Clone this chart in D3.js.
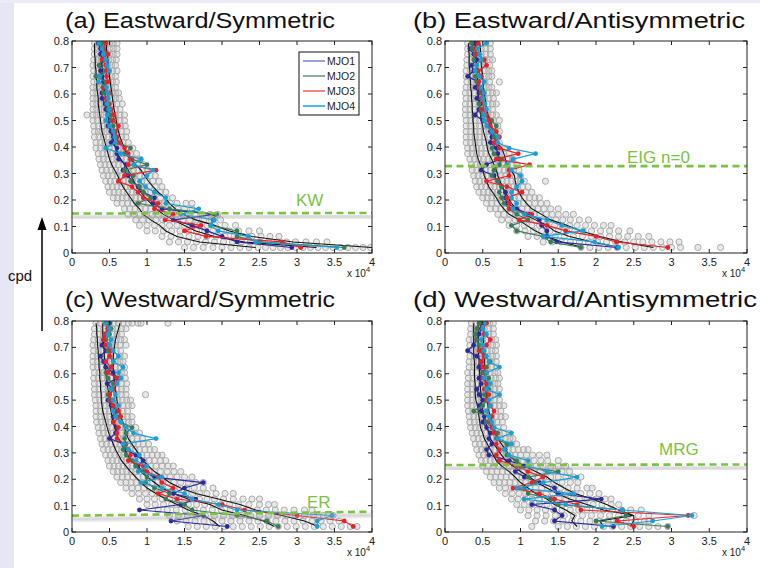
<!DOCTYPE html>
<html><head><meta charset="utf-8">
<script src="https://cdn.jsdelivr.net/npm/d3@7"></script>
<style>body{margin:0;background:#fff}svg{display:block;font-family:"Liberation Sans",Arial,Helvetica,sans-serif}</style>
</head><body><svg id="c" width="760" height="568"></svg>
<script>
// ---------- DATA ----------
const rowStep = 1/48;   // frequency bins (cpd), rows 1..38
const xTicks = [0,0.5,1,1.5,2,2.5,3,3.5,4];
const xTickLabels = ["0","0.5","1","1.5","2","2.5","3","3.5","4"];
const yTicks = [0,0.1,0.2,0.3,0.4,0.5,0.6,0.7,0.8];
const yTickLabels = ["0","0.1","0.2","0.3","0.4","0.5","0.6","0.7","0.8"];
const seriesNames = ["MJO1","MJO2","MJO3","MJO4"];
const seriesColors = ["#2a2a9a","#3b7c58","#e8222a","#1a9fd2"];
const legendColors = ["#8686cc","#6e9c80","#ee6a6a","#2aa6d8"];
const panelTitles = ["(a) Eastward/Symmetric","(b) Eastward/Antisymmetric","(c) Westward/Symmetric","(d) Westward/Antisymmetric"];
const waveLabels = ["KW","EIG n=0","ER","MRG"];
const waveFreqLeft = [0.149,0.328,0.062,0.254];
const waveFreqRight = [0.151,0.328,0.077,0.256];

// wavelength values (x 10^4) per frequency row, row 1 (lowest) to row 38
const a_MJO1=[2.93,2.2,2.0,1.8,1.6,1.35,1.9,1.2,1.08,1.1,0.95,0.88,0.8,0.75,0.68,0.72,0.62,0.6,0.6,0.52,0.55,0.52,0.48,0.5,0.48,0.45,0.44,0.4,0.4,0.44,0.42,0.4,0.38,0.37,0.42,0.38,0.38,0.35];
const a_MJO2=[3.63,2.5,2.2,2.2,1.85,1.88,1.93,1.3,0.88,1.05,0.95,0.9,0.78,0.82,0.7,1.0,0.8,0.7,0.78,0.62,0.58,0.56,0.55,0.52,0.52,0.48,0.46,0.47,0.42,0.41,0.45,0.32,0.45,0.36,0.4,0.43,0.42,0.4];
const a_MJO3=[3.05,2.8,1.79,1.5,1.72,1.24,1.35,1.1,1.15,0.95,0.88,0.8,0.62,0.7,1.12,0.75,0.78,0.75,0.7,0.62,0.6,0.58,0.62,0.55,0.56,0.52,0.5,0.45,0.5,0.42,0.48,0.46,0.46,0.45,0.4,0.48,0.42,0.45];
const a_MJO4=[3.53,2.45,2.35,1.95,1.85,1.9,1.45,1.69,1.25,1.25,1.1,0.98,0.9,1.0,1.08,0.82,0.92,0.65,0.45,0.58,0.57,0.55,0.5,0.45,0.47,0.5,0.47,0.48,0.48,0.46,0.35,0.37,0.5,0.47,0.45,0.42,0.4,0.36];
const a_lo=[2.45,1.7,1.4,1.25,1.17,1.05,0.95,0.9,0.83,0.78,0.73,0.68,0.64,0.61,0.57,0.53,0.5,0.48,0.46,0.44,0.42,0.4,0.39,0.38,0.37,0.36,0.35,0.35,0.34,0.33,0.33,0.32,0.32,0.31,0.31,0.3,0.3,0.3];
const a_mid=[3.26,2.3,1.9,1.65,1.5,1.35,1.22,1.12,1.05,0.98,0.92,0.87,0.82,0.79,0.75,0.7,0.65,0.6,0.58,0.56,0.54,0.52,0.5,0.49,0.48,0.47,0.46,0.45,0.44,0.43,0.42,0.41,0.41,0.4,0.4,0.39,0.39,0.38];
const a_hi=[4.0,2.95,2.4,2.1,1.9,1.65,1.48,1.38,1.3,1.24,1.15,1.08,1.02,0.97,0.92,0.85,0.78,0.72,0.7,0.67,0.64,0.62,0.6,0.59,0.58,0.56,0.55,0.54,0.53,0.52,0.51,0.5,0.49,0.48,0.48,0.47,0.46,0.46];

const b_MJO1=[2.28,1.48,1.35,1.35,1.28,1.25,1.12,0.95,0.82,0.8,0.8,0.75,0.7,0.65,0.48,0.55,0.72,0.7,0.68,0.6,0.62,0.6,0.58,0.5,0.4,0.45,0.47,0.42,0.45,0.4,0.44,0.3,0.38,0.35,0.42,0.38,0.33,0.4];
const b_MJO2=[1.8,1.4,1.3,0.95,0.88,1.1,0.95,0.85,0.78,0.75,0.72,0.75,0.7,0.62,0.65,0.72,0.75,0.65,0.62,0.68,0.65,0.65,0.68,0.62,0.5,0.48,0.45,0.5,0.48,0.45,0.42,0.4,0.44,0.42,0.38,0.4,0.36,0.35];
const b_MJO3=[2.95,2.27,2.0,1.6,1.35,0.98,1.15,0.85,0.85,0.82,1.02,0.82,0.55,0.85,0.85,1.12,0.68,0.97,0.72,0.65,0.72,0.68,0.6,0.58,0.55,0.5,0.52,0.48,0.5,0.46,0.45,0.48,0.44,0.55,0.52,0.42,0.4,0.44];
const b_MJO4=[2.3,1.98,1.3,1.83,1.55,1.35,1.05,0.9,0.95,0.88,0.88,0.95,1.02,1.0,0.88,0.82,0.9,1.2,0.85,0.7,0.7,0.62,0.55,0.52,0.52,0.55,0.53,0.5,0.52,0.48,0.52,0.45,0.4,0.42,0.48,0.46,0.43,0.55];
const b_lo=[1.83,1.55,1.35,1.2,1.08,0.98,0.85,0.78,0.72,0.68,0.63,0.58,0.55,0.52,0.5,0.47,0.44,0.42,0.41,0.4,0.39,0.38,0.38,0.37,0.37,0.36,0.36,0.35,0.35,0.34,0.34,0.33,0.33,0.32,0.32,0.32,0.31,0.31];
const b_mid=[2.32,1.95,1.65,1.45,1.35,1.2,1.05,0.95,0.88,0.84,0.8,0.76,0.73,0.7,0.68,0.65,0.62,0.58,0.56,0.55,0.53,0.51,0.5,0.48,0.47,0.46,0.46,0.45,0.44,0.44,0.43,0.43,0.42,0.42,0.41,0.41,0.4,0.4];
const b_hi=[2.76,2.35,2.05,1.8,1.62,1.4,1.28,1.15,1.08,1.02,0.98,0.95,0.93,0.92,0.88,0.82,0.8,0.78,0.75,0.68,0.65,0.63,0.62,0.6,0.57,0.55,0.54,0.53,0.52,0.51,0.5,0.5,0.49,0.48,0.48,0.47,0.47,0.46];

const c_MJO1=[2.07,1.32,1.75,0.9,1.45,1.65,1.35,1.5,1.75,1.1,0.95,0.88,0.95,0.85,0.72,0.7,0.5,0.58,0.6,0.55,0.55,0.6,0.52,0.48,0.5,0.55,0.47,0.6,0.55,0.45,0.42,0.38,0.45,0.4,0.42,0.45,0.48,0.5];
const c_MJO2=[2.75,2.6,2.2,1.6,1.5,1.25,1.3,1.1,0.98,1.0,0.95,0.85,0.8,0.72,0.68,0.72,0.7,0.72,0.8,0.65,0.6,0.55,0.55,0.5,0.48,0.52,0.55,0.48,0.45,0.52,0.55,0.5,0.48,0.5,0.45,0.5,0.52,0.48];
const c_MJO3=[3.75,3.63,3.0,2.3,2.0,1.4,1.15,1.35,1.2,1.15,1.0,0.95,0.75,0.78,0.75,0.7,0.6,0.6,0.62,0.55,0.65,0.62,0.55,0.52,0.5,0.55,0.58,0.6,0.48,0.52,0.45,0.5,0.52,0.45,0.42,0.44,0.48,0.45];
const c_MJO4=[3.27,3.27,3.47,2.2,1.95,1.6,1.5,1.2,0.92,1.2,0.88,1.0,0.85,0.9,0.75,0.68,1.12,0.82,0.72,0.65,0.58,0.55,0.62,0.55,0.58,0.52,0.6,0.65,0.62,0.68,0.55,0.62,0.55,0.5,0.52,0.48,0.5,0.45];
const c_lo=[1.97,1.88,1.75,1.55,1.4,1.25,1.12,1.0,0.92,0.85,0.78,0.72,0.66,0.62,0.58,0.55,0.52,0.49,0.47,0.45,0.43,0.41,0.4,0.39,0.39,0.38,0.38,0.37,0.37,0.36,0.36,0.35,0.35,0.34,0.34,0.33,0.33,0.32];
const c_mid=[2.7,2.55,2.3,2.0,1.84,1.55,1.35,1.2,1.1,1.0,0.92,0.86,0.8,0.74,0.7,0.66,0.62,0.59,0.57,0.55,0.53,0.52,0.51,0.5,0.49,0.48,0.47,0.46,0.45,0.45,0.44,0.43,0.43,0.42,0.42,0.41,0.41,0.41];
const c_hi=[3.28,3.1,2.8,2.45,2.24,1.95,1.65,1.45,1.3,1.2,1.1,1.02,0.95,0.9,0.85,0.8,0.75,0.72,0.7,0.68,0.65,0.63,0.61,0.6,0.59,0.58,0.57,0.56,0.55,0.55,0.55,0.55,0.56,0.57,0.58,0.6,0.62,0.64];

const d_MJO1=[2.23,1.45,1.55,1.45,1.15,2.07,1.5,1.45,1.25,1.05,0.93,1.05,0.85,0.58,0.55,0.62,0.58,0.6,0.55,0.5,0.52,0.48,0.45,0.5,0.45,0.42,0.48,0.45,0.5,0.45,0.48,0.42,0.3,0.38,0.42,0.45,0.48,0.47];
const d_MJO2=[2.95,2.0,2.4,2.35,1.5,1.4,1.1,1.05,1.2,1.1,1.5,1.0,0.95,0.82,0.8,0.82,0.68,0.7,0.62,0.55,0.6,0.38,0.5,0.55,0.52,0.58,0.55,0.58,0.5,0.55,0.6,0.52,0.48,0.45,0.42,0.4,0.42,0.45];
const d_MJO3=[2.5,2.28,3.22,1.8,1.75,1.45,1.25,0.9,1.15,1.3,1.1,0.95,0.72,0.68,0.72,0.68,0.7,0.65,0.62,0.6,0.62,0.65,0.6,0.55,0.58,0.52,0.55,0.5,0.55,0.5,0.48,0.52,0.45,0.55,0.6,0.52,0.5,0.55];
const d_MJO4=[2.08,2.75,3.27,2.35,1.6,1.05,1.7,0.95,1.3,1.75,1.35,1.1,1.1,0.85,0.78,0.88,0.7,0.88,0.65,0.62,0.58,0.55,0.6,0.58,0.72,0.55,0.6,0.52,0.55,0.72,0.58,0.55,0.52,0.5,0.48,0.55,0.5,0.52];
const d_lo=[1.75,1.68,1.72,1.6,1.45,1.35,1.2,1.1,1.0,0.93,0.85,0.75,0.68,0.64,0.6,0.56,0.52,0.5,0.47,0.46,0.45,0.44,0.43,0.41,0.4,0.4,0.4,0.39,0.39,0.39,0.39,0.38,0.38,0.38,0.38,0.38,0.38,0.38];
const d_mid=[2.1,2.05,2.5,2.1,1.88,1.65,1.48,1.35,1.22,1.12,1.0,0.9,0.8,0.75,0.7,0.65,0.6,0.58,0.56,0.54,0.52,0.5,0.49,0.48,0.48,0.47,0.47,0.46,0.46,0.45,0.45,0.45,0.44,0.44,0.44,0.44,0.44,0.44];
const d_hi=[2.45,2.5,2.5,2.3,2.14,1.95,1.72,1.58,1.45,1.35,1.2,1.05,0.92,0.85,0.8,0.75,0.7,0.67,0.64,0.62,0.6,0.58,0.57,0.56,0.55,0.54,0.54,0.53,0.53,0.52,0.52,0.52,0.51,0.51,0.51,0.51,0.51,0.51];

// gray sample circles: x values (x 10^2, i.e. 150 = 1.5 x 10^4) per row, row 1 first
const a_gray=["150 162 175 188 200 212 224 236 248 258 268 278 288 298 308 318 328 338 348 358 368 378 388 398","130 142 154 166 178 190 202 214 226 238 250 262 274 286 298 312 326 340","120 132 144 156 168 180 192 204 216 228 240 252 264 276","100 111 122 133 144 155 166 177 188 199 210 222 236 250","90 100 110 120 130 140 150 160 170 180 191 204 218","85 94 103 112 121 130 139 148 157 166 176 186 198","75 83 91 99 107 115 123 131 139 147 155 164 174 184 194","70 77 84 91 98 105 112 119 126 133 141 150 160","60 67 74 81 88 95 102 109 116 123 131 140 152 160","55 61 67 73 79 85 91 97 103 110 118 126 134","50 56 62 68 74 80 86 92 98 104 111 118 125","48 54 60 66 72 78 84 90 96 103 111 120","45 51 57 63 69 75 81 87 93 100 108 116","42 48 54 60 66 72 78 84 90 97 104 111","40 46 52 58 64 70 76 82 88 94 101","38 44 50 56 62 68 74 80 87 95","36 42 48 54 60 66 72 78 85 91","35 41 47 53 59 65 71 78 86","32 38 44 50 56 62 68 75 81","32 38 44 50 56 62 68 75","30 36 42 48 54 60 66 72","30 35 40 45 50 55 60 66 73","29 35 41 47 53 59 65 71","28 34 40 46 52 58 64 70","20 28 33 38 43 48 53 58 64 70","28 33 38 43 48 53 58 64","28 33 38 43 48 54 60 67","28 33 38 43 48 53 58 63","28 33 38 43 48 53 58 62","28 33 38 43 48 53 58","29 34 39 44 49 54 59","28 33 38 43 48 53 58","29 34 39 44 49 54 60","28 33 38 43 48 53 58","29 34 39 44 49 54 59","30 35 40 45 50 55 60","30 35 40 45 50 55 60","30 35 40 45 50 55 60"];
const b_gray=["180 192 204 216 228 240 252 264 276 288 300 312 335 365","130 142 154 166 178 190 202 214 226 238 250 262 274 286 298 310","110 122 134 146 158 170 182 194 206 218 230 242 256 270","95 106 117 128 139 150 161 172 183 194 206 218 230 245","85 95 105 115 125 135 145 155 165 175 186 198 210 220","75 84 93 102 111 120 129 138 147 156 166 178 190","70 78 86 94 102 110 118 126 134 142 150 160 170","60 67 74 81 88 95 102 109 116 123 131 140 150","55 62 69 76 83 90 97 104 111 119 127 135","50 56 62 68 74 80 86 92 98 105 112 119 125","45 51 57 63 69 75 81 87 93 100 107 115","42 48 54 60 66 72 78 84 90 96 103 110","40 46 52 58 64 70 76 82 88 94 100 105 133","38 44 50 56 62 68 74 80 86 93 100","36 42 48 54 60 66 72 78 84 91 98","35 41 47 53 59 65 71 77 83 89 95","33 39 45 51 57 63 69 75 82 90","30 36 42 48 54 60 66 72 78 85","30 36 42 48 54 60 66 72 80","28 34 40 46 52 58 64 72","28 34 40 46 52 58 64 70","28 34 40 46 52 58 65 72","28 34 40 46 52 58 64 70","28 34 40 46 52 58 64 72","27 33 39 45 51 57 63 68","27 33 39 45 51 57 63","27 33 39 45 51 57 63 68","28 34 40 46 52 58 64","27 33 39 45 51 57 63 68","28 34 40 46 52 58 62","29 35 41 47 53 59 72","28 34 40 46 52 58 62","28 34 40 46 52 58 62","29 35 41 47 53 59","29 35 41 47 53 59 63","30 36 42 48 54 60","30 36 42 48 54 60","30 36 42 48 54 60"];
const c_gray=["155 167 179 191 203 215 227 239 251 263 275 287 299 311 323 335 347 359 371 380","140 152 164 176 188 200 212 224 236 248 260 272 284 296 308 320 332 344 356","130 142 154 166 178 190 202 214 226 238 250 262 274 286 298 310 322 335 348","115 127 139 151 163 175 187 199 211 223 235 247 259 271 283 296 310 320","100 111 122 133 144 155 166 177 188 199 210 222 236 250 262 270","90 100 110 120 130 140 150 160 170 180 190 202 215 228 240 250","80 89 98 107 116 125 134 143 152 161 170 180 192 204 215","72 80 88 96 104 112 120 128 136 144 153 163 175 188","65 72 79 86 93 100 107 114 121 128 136 145 155 165 175","60 67 74 81 88 95 102 109 116 123 131 140 150 160","55 61 67 73 79 85 91 97 103 110 118 127 136 145","50 56 62 68 74 80 86 92 98 105 112 120 128 135","48 54 60 66 72 78 84 90 96 103 110 118 125","45 51 57 63 69 75 81 87 93 100 107 114 120","42 48 54 60 66 72 78 84 90 97 104 110","40 46 52 58 64 70 76 82 88 95 102","38 44 50 56 62 68 74 80 87 94","36 42 48 54 60 66 72 78 84 90","35 41 47 53 59 65 71 78 85","33 39 45 51 57 63 69 75 80","32 38 44 50 56 62 68 74 80","32 38 44 50 56 62 68 74","32 38 44 50 56 62 68 75 80","31 37 43 49 55 61 67 73 78","30 36 42 48 54 60 66 72 98","30 36 42 48 54 60 66 72","30 36 42 48 54 60 66 73","29 35 41 47 53 59 65 71","30 36 42 48 54 60 66 70","28 34 40 46 52 58 64 70","28 34 40 46 52 58 64 68","28 34 40 46 52 58 64 70","29 35 41 47 53 59 65","28 34 40 46 52 58 64 72","29 35 41 47 53 59 65 70","30 36 42 48 54 60 66","30 36 42 48 54 60 66 72","32 38 44 50 56 62 68 75 80 88 92 128"];
const d_gray=["115 150 162 174 186 198 210 222 234 246 258 270 282 295","120 132 144 156 168 180 192 204 216 228 240 252 264 270","110 122 134 146 158 170 182 194 206 218 230 242 256 270 330","100 111 122 133 144 155 166 177 188 199 210 222 234 246 260","95 105 115 125 135 145 155 165 175 185 196 208 220 230","88 97 106 115 124 133 142 151 160 169 178 188 200 212 220","80 89 98 107 116 125 134 143 152 161 170 180 192 204","72 80 88 96 104 112 120 128 136 144 153 163 175 188 195","65 72 79 86 93 100 107 114 121 128 136 145 155 166 176","60 67 74 81 88 95 102 109 116 123 131 140 150 160 170 180","55 62 69 76 83 90 97 104 111 118 126 135 145 155 165","50 57 64 71 78 85 92 99 106 113 121 130 140 150 160","48 54 60 66 72 78 84 90 96 103 110 118 127 136 150","45 51 57 63 69 75 81 87 93 100 108 116 125 135","42 48 54 60 66 72 78 84 90 97 104 110","40 46 52 58 64 70 76 82 88 95","38 44 50 56 62 68 74 80 86 90","36 42 48 54 60 66 72 78 85","34 40 46 52 58 64 70 78","33 39 45 51 57 63 69 76","32 38 44 50 56 62 68 74 80","31 37 43 49 55 61 67 74","30 36 42 48 54 60 66 72 78","30 36 42 48 54 60 66 72","30 36 42 48 54 60 66 71","30 36 42 48 54 60 66 72","30 36 42 48 54 60 66 70","31 37 43 49 55 61 67 72","30 36 42 48 54 60 66 70","32 38 44 50 56 62 68","32 38 44 50 56 62 68","33 39 45 51 57 63 68","32 38 44 50 56 62 67","33 39 45 51 57 63 68","32 38 44 50 56 62 67","34 40 46 52 58 64","34 40 46 52 58 64","35 41 47 53 59 64"];

// ---------- BUILD ----------
const panelData = [
  {gray:a_gray, black:[a_lo,a_mid,a_hi], mjo:[a_MJO1,a_MJO2,a_MJO3,a_MJO4]},
  {gray:b_gray, black:[b_lo,b_mid,b_hi], mjo:[b_MJO1,b_MJO2,b_MJO3,b_MJO4]},
  {gray:c_gray, black:[c_lo,c_mid,c_hi], mjo:[c_MJO1,c_MJO2,c_MJO3,c_MJO4]},
  {gray:d_gray, black:[d_lo,d_mid,d_hi], mjo:[d_MJO1,d_MJO2,d_MJO3,d_MJO4]}
];
const layout = [
  {x:72, y:41, w:300, h:212, tx:65, ty:28, tw:270, lx:296, ly:206},
  {x:445,y:41, w:302, h:212, tx:413,ty:28, tw:332, lx:627, ly:163},
  {x:72, y:321,w:300, h:211, tx:65, ty:307,tw:270, lx:307, ly:508},
  {x:445,y:321,w:302, h:211, tx:413,ty:307,tw:344, lx:659, ly:455}
];

const svg = d3.select("#c");
svg.append("rect").attr("width",760).attr("height",568).attr("fill","#fff");
svg.append("rect").attr("x",0).attr("y",0).attr("width",14).attr("height",568).attr("fill","#e6e6f7");
svg.append("rect").attr("x",0).attr("y",0).attr("width",760).attr("height",3).attr("fill","#ececf9");

const defs = svg.append("defs");
defs.append("filter").attr("id","blur").attr("x","-5%").attr("y","-200%").attr("width","110%").attr("height","500%")
  .append("feGaussianBlur").attr("stdDeviation",1.6);

panelData.forEach((pd,i)=>{
  const L = layout[i];
  const x = d3.scaleLinear().domain([0,4]).range([L.x, L.x+L.w]);
  const y = d3.scaleLinear().domain([0,0.8]).range([L.y+L.h, L.y]);
  const g = svg.append("g");
  defs.append("clipPath").attr("id","clip"+i).append("rect")
    .attr("x",L.x).attr("y",L.y).attr("width",L.w).attr("height",L.h);
  const pg = g.append("g").attr("clip-path",`url(#clip${i})`);

  // gray circles
  const pts = [];
  pd.gray.forEach((s,r)=>{ s.split(" ").forEach(v=>pts.push([+v/100,(r+1)*rowStep])); });
  pg.append("g").selectAll("circle").data(pts).join("circle")
    .attr("cx",d=>x(d[0])).attr("cy",d=>y(d[1])).attr("r",3.1)
    .attr("fill","#bdbdbd").attr("fill-opacity",0.35)
    .attr("stroke","#ababab").attr("stroke-width",1);

  const line = d3.line().x(d=>x(d[0])).y(d=>y(d[1]));
  // black lines
  pd.black.forEach(arr=>{
    pg.append("path").datum(arr.map((v,r)=>[v,(r+1)*rowStep]))
      .attr("d",line).attr("fill","none").attr("stroke","#111").attr("stroke-width",1.1);
  });
  // MJO series
  pd.mjo.forEach((arr,k)=>{
    const dat = arr.map((v,r)=>[v,(r+1)*rowStep]);
    pg.append("path").datum(dat).attr("d",line).attr("fill","none")
      .attr("stroke",seriesColors[k]).attr("stroke-width",1.2);
    pg.append("g").selectAll("circle").data(dat).join("circle")
      .attr("cx",d=>x(d[0])).attr("cy",d=>y(d[1])).attr("r",2.4).attr("fill",seriesColors[k]);
  });

  // wave dispersion line (dashed) with soft shadow
  const wl = [[0,waveFreqLeft[i]],[4,waveFreqRight[i]]];
  g.append("path").datum(wl).attr("d",line).attr("transform","translate(0,3.5)")
    .attr("stroke","#9a9a9a").attr("stroke-width",3).attr("opacity",0.55).attr("filter","url(#blur)").attr("fill","none");
  g.append("path").datum(wl).attr("d",line).attr("stroke","#7cc243").attr("stroke-width",2.6)
    .attr("stroke-dasharray","7,4.5").attr("fill","none");
  g.append("text").attr("x",L.lx).attr("y",L.ly).attr("fill","#7cc243").attr("font-size",17).text(waveLabels[i]);

  // axes box with inward ticks
  g.append("rect").attr("x",L.x).attr("y",L.y).attr("width",L.w).attr("height",L.h)
    .attr("fill","none").attr("stroke","#222").attr("stroke-width",1);
  const ax = g.append("g").attr("stroke","#222").attr("stroke-width",1);
  xTicks.forEach(t=>{
    ax.append("line").attr("x1",x(t)).attr("x2",x(t)).attr("y1",L.y+L.h).attr("y2",L.y+L.h-4);
    ax.append("line").attr("x1",x(t)).attr("x2",x(t)).attr("y1",L.y).attr("y2",L.y+4);
  });
  yTicks.forEach(t=>{
    ax.append("line").attr("x1",L.x).attr("x2",L.x+4).attr("y1",y(t)).attr("y2",y(t));
    ax.append("line").attr("x1",L.x+L.w).attr("x2",L.x+L.w-4).attr("y1",y(t)).attr("y2",y(t));
  });
  g.append("g").selectAll("text").data(xTicks).join("text")
    .attr("x",d=>x(d)).attr("y",L.y+L.h+13).attr("text-anchor","middle")
    .attr("font-size",11).attr("fill","#222").text((d,j)=>xTickLabels[j]);
  g.append("g").selectAll("text").data(yTicks).join("text")
    .attr("x",L.x-3).attr("y",d=>y(d)+4).attr("text-anchor","end")
    .attr("font-size",11).attr("fill","#222").text((d,j)=>yTickLabels[j]);
  const ex = g.append("text").attr("x",L.x+L.w-25).attr("y",L.y+L.h+24).attr("font-size",10).attr("fill","#222");
  ex.append("tspan").text("x 10");
  ex.append("tspan").attr("dy",-5).attr("font-size",7.5).text("4");

  // title
  g.append("text").attr("x",L.tx).attr("y",L.ty).attr("font-size",22).attr("fill","#111")
    .attr("textLength",L.tw).attr("lengthAdjust","spacingAndGlyphs").text(panelTitles[i]);

  // legend in panel (a)
  if(i===0){
    const lg = g.append("g");
    lg.append("rect").attr("x",299).attr("y",52).attr("width",60).attr("height",63)
      .attr("fill","#fff").attr("stroke","#111").attr("stroke-width",1);
    seriesNames.forEach((n,k)=>{
      const yy = 61 + k*15;
      lg.append("line").attr("x1",303).attr("x2",325).attr("y1",yy).attr("y2",yy)
        .attr("stroke",legendColors[k]).attr("stroke-width",1.6);
      lg.append("text").attr("x",327).attr("y",yy+4).attr("font-size",10.5).attr("fill","#222").text(n);
    });
  }
});

// cpd arrow
svg.append("line").attr("x1",42).attr("x2",42).attr("y1",331).attr("y2",226).attr("stroke","#000").attr("stroke-width",1.5);
svg.append("path").attr("d","M42,217 L37.5,230 L46.5,230 Z").attr("fill","#000");
svg.append("text").attr("x",8).attr("y",281).attr("font-size",15).attr("fill","#111").text("cpd");
</script></body></html>
